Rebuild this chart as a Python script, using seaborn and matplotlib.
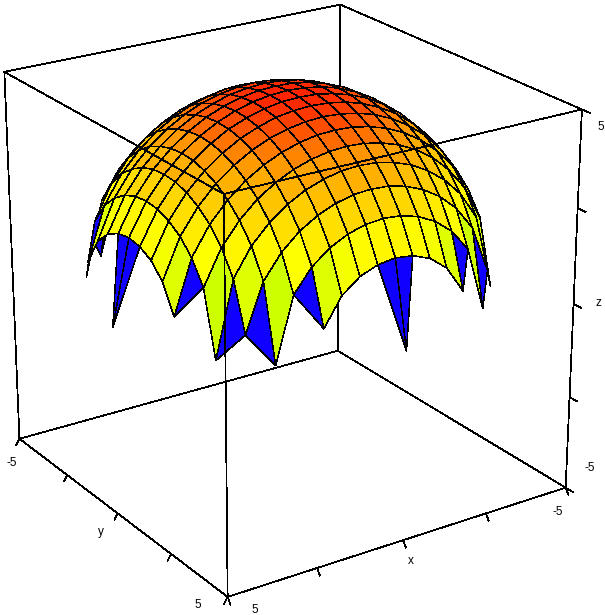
import numpy as np
import matplotlib
matplotlib.use("Agg")
import matplotlib.pyplot as plt
import seaborn as sns
from mpl_toolkits.mplot3d.art3d import Poly3DCollection

# grid and heights, quarter of the dome (|x| rows, |y| columns)
grid = [-5, -4.5, -4, -3.5, -3, -2.5, -2, -1.5, -1, -0.5, 0, 0.5, 1, 1.5, 2, 2.5, 3, 3.5, 4, 4.5, 5]
n = np.nan
z_quarter = [
    [5.00, 4.97, 4.90, 4.77, 4.58, 4.33, 4.00, 3.57, 3.00, 2.18, 0.00],
    [4.97, 4.95, 4.87, 4.74, 4.56, 4.30, 3.97, 3.54, 2.96, 2.12, n],
    [4.90, 4.87, 4.80, 4.66, 4.47, 4.21, 3.87, 3.43, 2.83, 1.94, n],
    [4.77, 4.74, 4.66, 4.53, 4.33, 4.06, 3.71, 3.24, 2.60, 1.58, n],
    [4.58, 4.56, 4.47, 4.33, 4.12, 3.84, 3.46, 2.96, 2.24, 0.87, n],
    [4.33, 4.30, 4.21, 4.06, 3.84, 3.54, 3.12, 2.55, 1.66, n, n],
    [4.00, 3.97, 3.87, 3.71, 3.46, 3.12, 2.65, 1.94, 0.00, n, n],
    [3.57, 3.54, 3.43, 3.24, 2.96, 2.55, 1.94, 0.71, n, n, n],
    [3.00, 2.96, 2.83, 2.60, 2.24, 1.66, 0.00, n, n, n, n],
    [2.18, 2.12, 1.94, 1.58, 0.87, n, n, n, n, n, n],
    [0.00, n, n, n, n, n, n, n, n, n, n],
]
axis_ticks = [-2.5, 0, 2.5]

sns.set_theme(style="white")
plt.rcParams["font.family"] = ["Liberation Sans", "DejaVu Sans"]

q = np.array(z_quarter)
half = np.vstack([q[:0:-1], q])
Z = np.hstack([half[:, :0:-1], half])

cmap = sns.blend_palette(["#ccff00", "#ffff00", "#ffd400", "#ff9800", "#ff2000"], as_cmap=True)
norm = plt.Normalize(1.5, 5)

fig = plt.figure(figsize=(6.05, 6.15), dpi=100)
# camera and position fitted to the box corners of the picture
L = 679.98
ax = fig.add_axes([-61.53 / 605, -15.92 / 615, L / 605, L / 615], projection="3d", computed_zorder=False)
ax.set_xlim(-5, 5, view_margin=0)
ax.set_ylim(-5, 5, view_margin=0)
ax.set_zlim(-5, 5, view_margin=0)
ax.view_init(22.816, 56.313)
ax.set_proj_type("persp", focal_length=0.7635)
ax.set_box_aspect((1, 1, 0.9976))
ax.set_axis_off()


def box_line(a, b, z):
    ax.plot([a[0], b[0]], [a[1], b[1]], [a[2], b[2]], color="black", lw=0.55, zorder=z, antialiased=False)


# back edges stay behind the dome
for a, b in [((-5, -5, -5), (5, -5, -5)), ((-5, -5, -5), (-5, 5, -5)), ((-5, -5, -5), (-5, -5, 5)),
             ((-5, -5, 5), (5, -5, 5)), ((-5, -5, 5), (-5, 5, 5))]:
    box_line(a, b, 1)

quads, colors = [], []
for i in range(20):
    for j in range(20):
        corners = [(i, j), (i + 1, j), (i + 1, j + 1), (i, j + 1)]
        pts = [(grid[a], grid[b], Z[a, b]) for a, b in corners if not np.isnan(Z[a, b])]
        if len(pts) == 4:
            quads.append(pts)
            colors.append(cmap(norm(np.mean([t[2] for t in pts]))))
        elif len(pts) == 3:
            quads.append(pts)
            colors.append("#1000ff")
surf = Poly3DCollection(quads, facecolors=colors, edgecolors="black", linewidths=0.35, zorder=2, antialiased=False)
ax.add_collection3d(surf)

# front edges are drawn over it
for a, b in [((5, 5, -5), (5, -5, -5)), ((5, 5, -5), (-5, 5, -5)), ((5, 5, -5), (5, 5, 5)),
             ((5, -5, -5), (5, -5, 5)), ((-5, 5, -5), (-5, 5, 5)),
             ((5, 5, 5), (5, -5, 5)), ((5, 5, 5), (-5, 5, 5))]:
    box_line(a, b, 3)

for t in [-5] + axis_ticks + [5]:
    box_line((5, t, -5), (5.1, t, -5.15), 3)
    box_line((t, 5, -5), (t, 5.12, -5.15), 3)
    box_line((-5, 5, t), (-5, 5.3, t), 3)

for txt, px, py in [("-5", 12, 463), ("y", 101, 532), ("5", 198, 605), ("5", 255, 610), ("x", 411, 561),
                    ("-5", 558, 512), ("-5", 590, 468), ("z", 598, 303), ("5", 601, 127)]:
    fig.text(px / 605, 1 - py / 615, txt, ha="center", va="center", fontsize=8.5, color="black")

fig.savefig("out.png", dpi=100)
